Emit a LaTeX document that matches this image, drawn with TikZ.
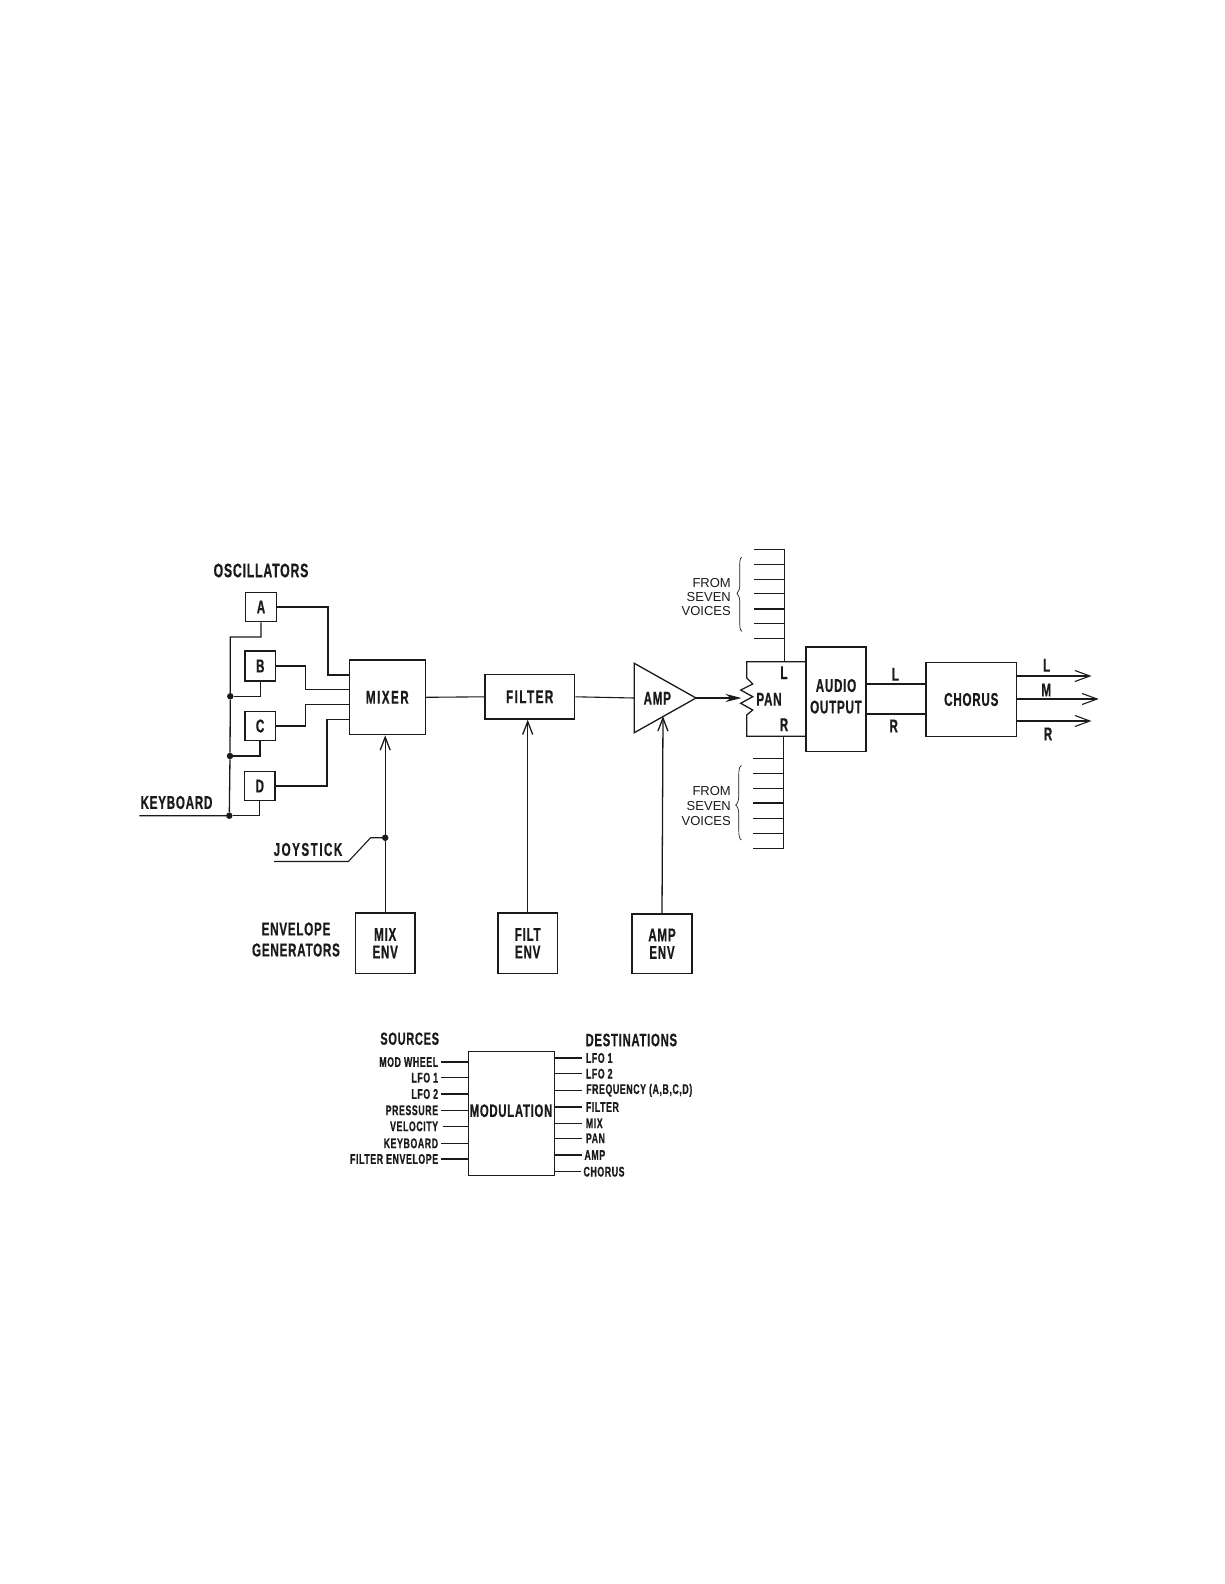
\documentclass[tikz,border=0pt]{standalone}
\usepackage{fontspec}
\setmainfont{Liberation Sans}
\newfontfamily\labf[FakeStretch=0.63,LetterSpace=4,BoldFeatures={FakeBold=0.6}]{Liberation Sans}
\newcommand{\wider}{\addfontfeature{LetterSpace=8}}
\usetikzlibrary{arrows.meta}
\definecolor{ink}{HTML}{1A1A1A}
\tikzset{
  wire/.style={draw=ink,line width=1.3pt},
  thin wire/.style={draw=ink,line width=1.1pt},
  box/.style={draw=ink,line width=1.4pt,inner sep=0pt,align=center,text=ink,font=\labf\bfseries\fontsize{18.5}{18.5}\selectfont},
  lab/.style={inner sep=0pt,align=center,text=ink,font=\labf\bfseries\fontsize{18.5}{18.5}\selectfont},
  big/.style={inner sep=0pt,text=ink,font=\labf\bfseries\fontsize{19.5}{19.5}\selectfont},
  head/.style={inner sep=0pt,text=ink,font=\labf\bfseries\fontsize{18}{18}\selectfont},
  small/.style={inner sep=0pt,text=ink,font=\labf\bfseries\fontsize{14}{14}\selectfont},
  plain/.style={inner sep=0pt,text=ink,font=\fontsize{13}{13}\selectfont},
  dot/.style={circle,fill=ink,inner sep=0pt,minimum size=6.5pt},
  barb/.style={-{Straight Barb[length=13pt,width=10pt,line width=1.3pt]}},
  outbarb/.style={-{Straight Barb[length=15pt,width=11pt,line width=1.1pt]}},
  fillarrow/.style={-{Stealth[length=16pt,width=8pt]}},
}
\begin{document}
\begin{tikzpicture}[x=1pt,y=-1pt]
\useasboundingbox (0,0) rectangle (1224,1584);
% oscillators
\node[big] (osc) at (261,570.5) {OSCILLATORS};
\node[box,minimum width=30.6pt,minimum height=29.4pt] (A) at (261,607) {A};
\node[box,minimum width=30.6pt,minimum height=30pt] (B) at (260.3,666) {B};
\node[box,minimum width=30.3pt,minimum height=28.6pt] (C) at (260.1,726) {C};
\node[box,minimum width=30.3pt,minimum height=29.4pt] (D) at (259.8,786) {D};
\node[box,minimum width=76pt,minimum height=74.7pt] (mixer) at (387.3,697.3) {\wider MIXER};
\node[box,minimum width=89.8pt,minimum height=44.4pt] (filter) at (529.7,696.8) {\wider FILTER};
\node[box,minimum width=59.5pt,minimum height=60.5pt] (mixenv) at (385.2,943.2) {MIX\\[-1pt]ENV};
\node[box,minimum width=59.5pt,minimum height=60.5pt] (filtenv) at (527.7,943.2) {FILT\\[-1pt]ENV};
\node[box,minimum width=60pt,minimum height=59.5pt] (ampenv) at (662,943.7) {AMP\\[-1pt]ENV};
\node[box,minimum width=60pt,minimum height=104.3pt] (audio) at (836,699.2) {};
\node[lab] (audiolab) at (836,696.3) {AUDIO\\[3pt]OUTPUT};
\node[box,minimum width=90.7pt,minimum height=74.4pt] (chorus) at (971.3,699.5) {CHORUS};
% keyboard bus
\node[lab] (kbdlab) at (176.5,802.5) {KEYBOARD};
\coordinate (kbdin) at (139.3,815.7);
\node[dot] (dk) at (229.3,815.7) {};
\node[dot] (dc) at (230,756) {};
\node[dot] (db) at (230.3,696.3) {};
\coordinate (bustop) at (230.3,637);
\draw[wire] (kbdin) -- (dk) -- (dc) -- (db) -- (bustop) -| (A.south);
\draw[wire] (db) -| (B.south);
\draw[wire] (dc) -| (C.south);
\draw[wire] (dk) -| (D.south);
% oscillators to mixer
\coordinate (ma) at (349.3,675);
\coordinate (mb) at (349.3,689.3);
\coordinate (mc) at (349.3,704.3);
\coordinate (md) at (349.3,719.3);
\draw[wire] (A.east) -| (328,675) -- (ma);
\draw[wire] (B.east) -| (305.3,689.3) -- (mb);
\draw[wire] (C.east) -| (305.3,704.3) -- (mc);
\draw[wire] (D.east) -| (327,719.3) -- (md);
% joystick
\node[lab] (joylab) at (308,849.5) {\wider JOYSTICK};
\coordinate (joyin) at (274,861.5);
\coordinate (joyknee) at (348.4,861.5);
\coordinate (joyup) at (370.6,837.7);
\node[dot] (joydot) at (385.2,837.7) {};
\draw[thin wire] (joyin) -- (joyknee) -- (joyup) -- (joydot);
\draw[wire,barb] (mixenv.north) -- (mixer.south -| mixenv.north);
\draw[wire,barb] (filtenv.north) -- (filter.south -| filtenv.north);
% envelope label
\node[lab] (envlab) at (296,939.5) {ENVELOPE\\[2.5pt]GENERATORS};
% amp
\coordinate (ampin) at (634.3,698);
\coordinate (amptip) at (696,698);
\coordinate (ampa) at (634.3,663.3);
\coordinate (ampb) at (634.3,732.7);
\coordinate (ampc) at (663,716.2);
\draw[wire] (ampa) -- (amptip) -- (ampb) -- cycle;
\node[lab] (amplab) at (657.3,698.3) {AMP};
\draw[thin wire] (mixer.east) -- (filter.west);
\draw[thin wire] (filter.east) -- (ampin);
\draw[wire,barb] (ampenv.north) -- (ampc);
% pan
\coordinate (pantop) at (746.7,661.7);
\coordinate (panbot) at (746.7,736.3);
\coordinate (panout1) at (806,661.7);
\coordinate (panout2) at (806,736.3);
\coordinate (wiper) at (741.5,698);
\draw[wire,fillarrow] (amptip) -- (wiper);
\draw[wire,line join=miter] (panout1) -- (pantop) -- (746.7,678) -- (752.7,684) -- (740.7,690) -- (752.7,696.7) -- (740.7,703.3) -- (752.7,710) -- (746.7,715) -- (panbot) -- (panout2);
\node[lab] (panlab) at (769,699.3) {PAN};
\node[lab] (lpan) at (784,672.7) {L};
\node[lab] (rpan) at (784,724.7) {R};
% upper voice bus
\coordinate (ubt) at (784.3,549.3);
\coordinate (ubb) at (784.3,661.7);
\draw[wire] (ubt) -- (ubb);
\foreach \n/\y in {1/549.3,2/564.7,3/579.7,4/593.7,5/609,6/623.7,7/638.7}{
  \coordinate (ut\n) at (754.3,\y);
  \draw[thin wire] (ut\n) -- (784.3,\y);
}
% lower voice bus
\coordinate (lbt) at (783.7,736.3);
\coordinate (lbb) at (783.7,848.3);
\draw[wire] (lbt) -- (lbb);
\foreach \n/\y in {1/758.7,2/773.3,3/788.7,4/803,5/818.3,6/833.3,7/848.3}{
  \coordinate (lt\n) at (753.3,\y);
  \draw[thin wire] (lt\n) -- (783.7,\y);
}
% braces
\draw[draw=ink,line width=0.7pt] (742,557.3) .. controls (739.5,558) and (739.8,562) .. (739.8,568) -- (739.8,585) .. controls (739.8,589) and (738.5,592) .. (737,593.3) .. controls (738.5,595) and (739.8,598) .. (739.8,602) -- (739.8,620) .. controls (739.8,626) and (739.5,630) .. (742,631.3);
\draw[draw=ink,line width=0.7pt] (741.5,765.7) .. controls (739,766.5) and (738.8,770) .. (738.8,776) -- (738.8,796) .. controls (738.8,800) and (737.5,803.5) .. (735.7,805) .. controls (737.5,806.5) and (738.8,810) .. (738.8,814) -- (738.8,829) .. controls (738.8,835) and (739,839) .. (741.5,840);
\node[plain,align=right,anchor=east] (fromu) at (731,597) {FROM\\[1.4pt]SEVEN\\[1.4pt]VOICES};
\node[plain,align=right,anchor=east] (froml) at (731,806) {FROM\\[1.7pt]SEVEN\\[1.7pt]VOICES};
% audio to chorus
\coordinate (al) at (866,684);
\coordinate (ar) at (866,714);
\draw[wire] (al) -- (al -| chorus.west);
\draw[wire] (ar) -- (ar -| chorus.west);
\node[lab] (llab) at (895.3,674.3) {L};
\node[lab] (rlab) at (893.7,726) {R};
% chorus outs
\coordinate (ol) at (1091.5,676);
\coordinate (om) at (1098.7,699);
\coordinate (or) at (1091.5,721);
\draw[wire,outbarb] (ol -| chorus.east) -- (ol);
\draw[wire,outbarb] (om -| chorus.east) -- (om);
\draw[wire,outbarb] (or -| chorus.east) -- (or);
\node[lab] (lo) at (1046.7,665.3) {L};
\node[lab] (mo) at (1046.3,690) {M};
\node[lab] (ro) at (1048,734) {R};
% modulation
\node[box,minimum width=85.7pt,minimum height=124.7pt,line width=0.9pt] (mod) at (511.2,1113.3) {};
\node[head] (modlab) at (511,1110.7) {MODULATION};
\node[head,font=\labf\bfseries\fontsize{17.5}{17.5}\selectfont] (src) at (409.7,1038.7) {SOURCES};
\node[head] (dst) at (631.3,1040) {DESTINATIONS};
\foreach \n/\t/\y/\l in {
  s1/{MOD WHEEL}/1062/441,
  s2/{LFO 1}/1077.7/441,
  s3/{LFO 2}/1094/441,
  s4/{PRESSURE}/1110.3/441,
  s5/{VELOCITY}/1126.3/443,
  s6/{KEYBOARD}/1143.3/441,
  s7/{FILTER ENVELOPE}/1159/441}{
  \node[small,anchor=east] (\n) at (438.3,\y) {\t};
  \coordinate (\n a) at (\l,\y);
  \draw[thin wire] (\n a) -- (\n a -| mod.west);
}
\foreach \n/\t/\y/\x/\e in {
  d1/{LFO 1}/1058/585.7/581.7,
  d2/{LFO 2}/1073.7/585.7/581.7,
  d3/{FREQUENCY (A,B,C,D)}/1090.3/586/581.7,
  d4/{FILTER}/1107/585.7/581.7,
  d5/{MIX}/1123.3/585.7/581.7,
  d6/{PAN}/1138.3/585.7/581.7,
  d7/{AMP}/1155/584.3/581.7,
  d8/{CHORUS}/1171.7/583.3/580.7}{
  \node[small,anchor=west] (\n) at (\x,\y) {\t};
  \coordinate (\n a) at (\e,\y);
  \draw[thin wire] (\n a -| mod.east) -- (\n a);
}
\end{tikzpicture}
\end{document}
